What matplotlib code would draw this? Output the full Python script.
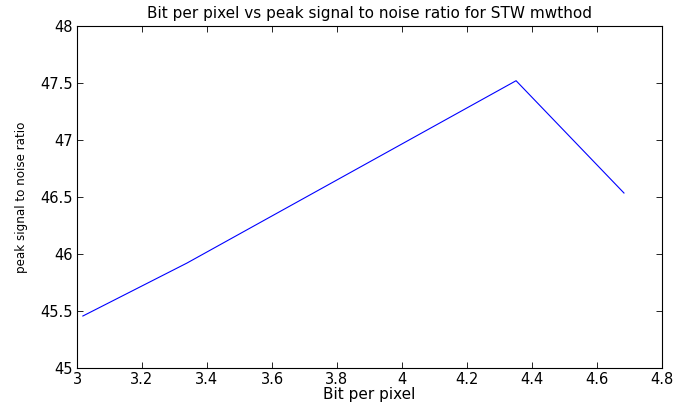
import matplotlib
matplotlib.use("Agg")
import matplotlib.pyplot as plt

bpp = [3.018, 3.338, 4.351, 4.683]
psnr = [45.456, 45.92, 47.52, 46.535]
xticks = [3, 3.2, 3.4, 3.6, 3.8, 4, 4.2, 4.4, 4.6, 4.8]
xlabels = ["3", "3.2", "3.4", "3.6", "3.8", "4", "4.2", "4.4", "4.6", "4.8"]
yticks = [45, 45.5, 46, 46.5, 47, 47.5, 48]
ylabels = ["45", "45.5", "46", "46.5", "47", "47.5", "48"]

plt.rcParams['font.family'] = ['DejaVu Sans']
fig = plt.figure(figsize=(6.88, 4.08), dpi=100)
ax = fig.add_axes([77/688, 40/408, 585/688, 342/408])
ax.plot(bpp, psnr, color='blue', linewidth=0.8)
ax.set_xlim(3, 4.8)
ax.set_ylim(45, 48)
ax.set_xticks(xticks)
ax.set_xticklabels(xlabels)
ax.set_yticks(yticks)
ax.set_yticklabels(ylabels)
ax.tick_params(direction='in', top=True, right=True, labelsize=10.5, length=4, width=0.6, pad=3)
for s in ax.spines.values():
    s.set_linewidth(0.8)
ax.set_title("Bit per pixel vs peak signal to noise ratio for STW mwthod", fontsize=11, pad=6)
ax.set_xlabel("Bit per pixel", fontsize=11, labelpad=0)
ax.set_ylabel("peak signal to noise ratio", fontsize=8.6, labelpad=9)
fig.savefig("out.png", dpi=100)
